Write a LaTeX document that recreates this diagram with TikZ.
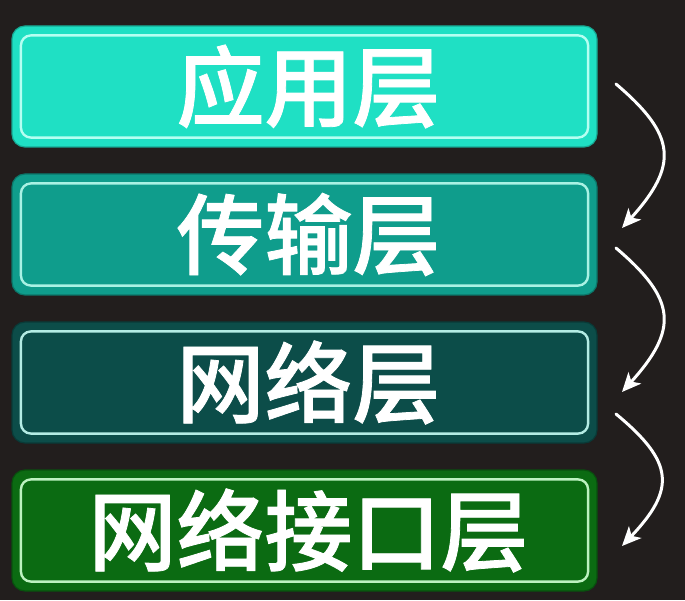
\documentclass[tikz,border=0pt]{standalone}
\usepackage{fontspec}
\newfontfamily\cjk{Noto Sans CJK SC Medium}[FakeBold=0.9]
\usetikzlibrary{arrows.meta,calc}
\definecolor{bgc}{HTML}{221E1D}
\definecolor{fa}{HTML}{1FE0C4}\definecolor{la}{HTML}{B5FFF2}
\definecolor{fb}{HTML}{0F9D8C}\definecolor{lb}{HTML}{A9F2E4}
\definecolor{fc}{HTML}{0C4D49}\definecolor{lc}{HTML}{B4ECE4}
\definecolor{fd}{HTML}{0B6B12}\definecolor{ld}{HTML}{BDF2C0}
\tikzset{
  layer/.style={rectangle, rounded corners=13pt, minimum width=585pt, minimum height=121pt,
    inner sep=0pt, text=white, font=\cjk\fontsize{88}{92}\selectfont},
  inner/.style={rounded corners=10pt, line width=2.4pt},
  flow/.style={draw=white, line width=3pt, line cap=round,
    -{Stealth[length=19pt,width=17pt,inset=5pt]}}
}
\begin{document}
\begin{tikzpicture}[x=1pt,y=1pt]
\fill[bgc] (0,0) rectangle (685,600);
\useasboundingbox (0,0) rectangle (685,600);
\foreach \n/\y/\f/\l/\t in {b1/513.5/fa/la/应用层, b2/365.5/fb/lb/传输层, b3/217.5/fc/lc/网络层, b4/69.5/fd/ld/网络接口层}{
  \node[layer, fill=\f, draw=\f!75!black, line width=1.2pt] (\n) at (304.5,\y) {\kern8pt\t};
  \draw[inner, draw=\l] ($(\n.north west)+(9.5,-10)$) rectangle ($(\n.south east)+(-9.5,10)$);
}
\coordinate (s1) at (616,516); \coordinate (e1) at (622,372);
\coordinate (s2) at (616,352); \coordinate (e2) at (622,208);
\coordinate (s3) at (616,186); \coordinate (e3) at (622,54);
\draw[flow] (s1) .. controls (676,465) and (679,435) .. (e1);
\draw[flow] (s2) .. controls (676,301) and (679,271) .. (e2);
\draw[flow] (s3) .. controls (674,138) and (676,111) .. (e3);
\end{tikzpicture}
\end{document}
